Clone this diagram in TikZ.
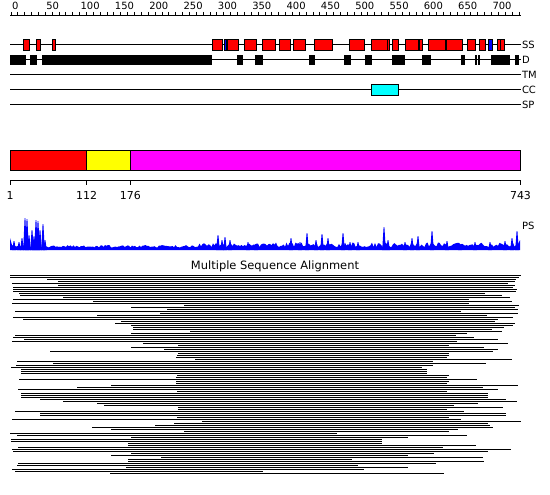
\documentclass[tikz,border=0pt]{standalone}
\usepackage{fontspec}
\setmainfont{DejaVu Sans}
\usetikzlibrary{positioning}
\definecolor{tinta}{HTML}{000000}
\definecolor{rojo}{HTML}{FF0000}
\definecolor{amarillo}{HTML}{FFFF00}
\definecolor{fucsia}{HTML}{FF00FF}
\definecolor{cian}{HTML}{00FFFF}
\definecolor{azul}{HTML}{0000FF}

\begin{document}
\begin{tikzpicture}[x=1bp, y=-1bp, line width=1bp, font=\fontsize{10}{12}\selectfont,
    etiqueta/.style={anchor=west, inner sep=0.5bp}]
  \useasboundingbox (0,0) rectangle (550,495);
  \pgfmathsetseed{11}
  \draw[tinta] (10,15.5) -- (521,15.5);
  \foreach \r in {0,10,...,740}
    \draw[tinta] ({11+\r*0.6865},12) -- ({11+\r*0.6865},15.5);
  \foreach \r in {0,50,...,700}
    \node[anchor=base west, inner sep=0pt] (r\r) at ({11.5+\r*0.6865},9.3) {\r};
  \foreach \y/\t in {45/SS, 60/D, 75/TM, 90/CC, 105/SP}
    \draw[tinta] (10,\y) -- (521,\y) node[etiqueta] (pista\t) {\t};
  \foreach \a/\b in {23/29, 36/40, 52/55, 212/222, 227/238, 244/256, 262/275, 279/290,
      293/305, 314/332, 349/364, 371/387, 387/389, 392/398, 405/418, 419/422, 428/445,
      446/462, 467/475, 479/485, 497/500.5, 500.5/504}
    \draw[fill=rojo] (\a,40) rectangle (\b,50.5);
  \foreach \a/\b in {224/226.5, 488/492}
    \draw[fill=azul] (\a,40) rectangle (\b,50.5);
  \foreach \a/\b in {10/26, 30/37, 42/212, 237/243, 255/263, 309/315, 344/351, 365/372,
      392/405, 422/431, 461/465, 475/477, 478/479.5, 491/510, 515/519}
    \fill[tinta] (\a,55) rectangle (\b,65.5);
  \draw[fill=cian] (371,85) rectangle (398,95.5);

  \foreach \a/\b/\c in {10/86.7/rojo, 86.7/130.3/amarillo, 130.3/520.5/fucsia}
    \draw[fill=\c] (\a,150.5) rectangle (\b,170.5);
  \draw[tinta] (10,180.5) -- (520.5,180.5);
  \foreach \x/\t in {10/1, 86.7/112, 130.3/176, 520.5/743} {
    \draw[tinta] (\x,180.5) -- (\x,185);
    \node[anchor=base, inner sep=0pt, font=\fontsize{11}{13}\selectfont] (eje\t) at (\x,200) {\t};
  }

  \fill[azul] (10,250) -- (10,238) \foreach \x in {12,13.5,...,198} { -- (\x,{247.5-2.5*rnd}) }
    \foreach \x in {199.5,201,...,518} { -- (\x,{247-4.5*rnd}) } -- (520,240) -- (520,250) -- cycle;
  \foreach \x/\h in {14/9, 19/8, 22/12, 25/32, 27/31, 29/15, 32/20, 34/14, 36/30, 38/29, 40/20,
      43/26, 45/10, 218/15, 222/10, 225/13, 230/10, 248/8, 256/6, 291/12, 300/8, 307/17,
      316/10, 322/16, 328/12, 343/17, 350/8, 358/8, 384/23, 388/10, 405/8, 412/12, 418/14,
      432/19, 447/9, 460/6, 475/8, 490/8, 505/9, 512/12, 517/19}
    \fill[azul] ({\x-1.8},250) -- ({\x-0.4},{250-\h}) -- ({\x+0.4},{250-\h}) -- ({\x+1.8},250) -- cycle;
  \node (ps) [etiqueta] at (521,226) {PS};

  \node[anchor=base, inner sep=0pt, font=\fontsize{11.5}{13}\selectfont] (msa) at (275,269.5)
    {Multiple Sequence Alignment};
  \foreach \s/\e [count=\i from 0] in {10/521, 10/519, 47/516, 58/515, 12/508, 58/515,
      13/513, 13/517, 13/516, 19/485, 20/502, 63/510, 13/469, 93/512, 12/469, 184/519,
      131/515, 167/518, 15/461, 160/518, 97/487, 13/513, 23/498, 121/495, 115/515,
      131/513, 133/504, 133/492, 190/502, 131/467, 15/456, 13/474, 24/498, 12/457,
      143/508, 178/449, 131/484, 164/498, 50/493, 178/449, 177/449, 176/447, 195/512,
      17/433, 53/486, 16/433, 11/422, 21/427, 21/427, 21/427, 177/449, 176/447, 19/477,
      176/449, 176/447, 111/518, 77/483, 18/498, 177/447, 21/488, 21/488, 21/488, 40/506,
      63/517, 97/478, 104/454, 178/503, 178/447, 15/464, 40/506, 40/506, 177/449, 12/461,
      202/521, 174/488, 155/490, 92/493, 111/458, 184/449, 10/337, 17/467, 131/408,
      11/382, 11/382, 128/382, 128/476, 18/443, 12/511, 13/488, 131/434, 111/408,
      161/483, 128/352, 128/484, 18/436, 17/358, 126/408, 12/364, 15/263, 110/444}
    \draw[tinta] (\s,{275.5+2*\i}) -- (\e,{275.5+2*\i});
\end{tikzpicture}
\end{document}
